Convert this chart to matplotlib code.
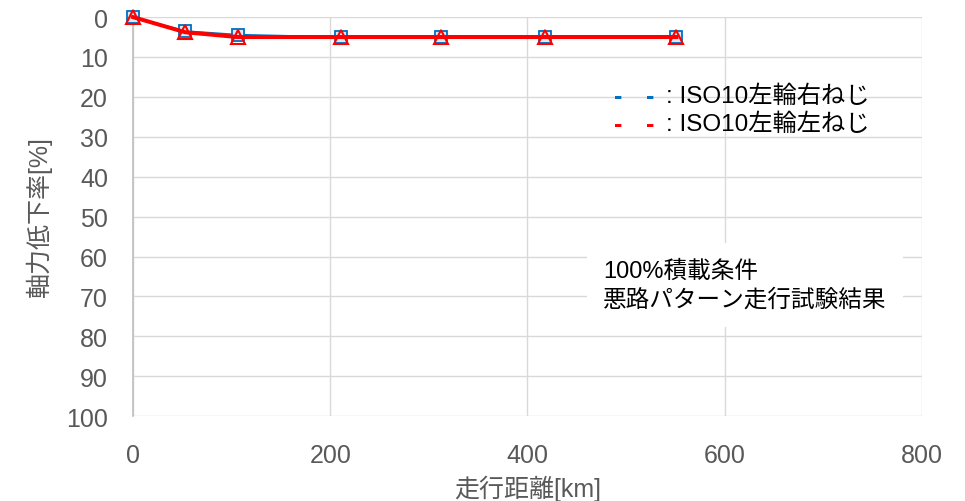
import matplotlib.pyplot as plt

plt.rcParams['font.family'] = ['Liberation Sans', 'Noto Sans CJK JP', 'DejaVu Sans']

distance_km = [0, 53, 106, 211, 312, 418, 551]
right_screw = [0, 3.5, 4.4, 5.0, 5.0, 5.0, 5.0]
left_screw = [0, 3.8, 5.0, 5.0, 5.0, 5.0, 5.0]

x_ticks = [0, 200, 400, 600, 800]
y_ticks = list(range(0, 101, 10))

blue = '#0070c0'
red = '#ff0000'
gray_text = '#595959'
grid_col = '#d9d9d9'

fig = plt.figure(figsize=(9.65, 5.02), dpi=100)
ax = fig.add_axes([0.1378, 0.169, 0.8176, 0.795])

ax.plot(distance_km, right_screw, color=blue, linewidth=1.2, marker='s', markersize=9,
        markerfacecolor='#dbe9f6', markeredgecolor=blue, markeredgewidth=1.3, zorder=3, clip_on=False)
ax.plot(distance_km, left_screw, color=red, linewidth=2.9, marker='^', markersize=10,
        markerfacecolor='none', markeredgecolor=red, markeredgewidth=1.5, zorder=4, clip_on=False)

ax.set_xlim(0, 800)
ax.set_ylim(100, 0)
ax.set_xticks(x_ticks)
ax.set_yticks(y_ticks)
ax.grid(True, color=grid_col, linewidth=1)
ax.set_axisbelow(True)
for side in ['top', 'right', 'bottom']:
    ax.spines[side].set_visible(False)
ax.spines['left'].set_color('#bfbfbf')
ax.spines['left'].set_linewidth(1.2)
ax.tick_params(axis='both', length=0, labelsize=18, labelcolor=gray_text)
ax.tick_params(axis='y', pad=18)
ax.tick_params(axis='x', pad=19)

ax.set_xlabel('走行距離[km]', fontsize=18, color=gray_text, labelpad=6)
ax.set_ylabel('軸力低下率[%]', fontsize=18, color=gray_text, labelpad=10)

# legend written as text
for y, col, name in [(19.8, blue, ': ISO10左輪右ねじ'), (26.8, red, ': ISO10左輪左ねじ')]:
    ax.text(492, y, '-', color=col, fontsize=18, fontweight='bold', va='center', ha='center')
    ax.text(524, y, '-', color=col, fontsize=18, fontweight='bold', va='center', ha='center')
    ax.text(540, y, name, color='black', fontsize=17.5, va='center', ha='left')

ax.text(477, 67.2, '100%積載条件\n悪路パターン走行試験結果', fontsize=17, color='black',
        va='center', ha='left', linespacing=1.35,
        bbox=dict(boxstyle='square,pad=0.7', facecolor='white', edgecolor='none'))

fig.savefig('out.png', dpi=100)
